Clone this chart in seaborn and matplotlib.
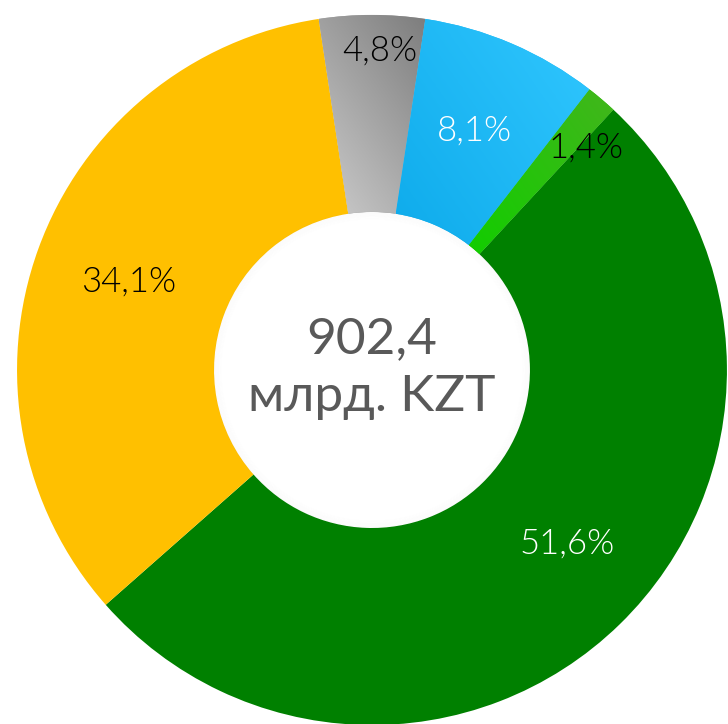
import matplotlib.pyplot as plt
import numpy as np
import seaborn as sns
from matplotlib.colors import LinearSegmentedColormap

# shares of the total, clockwise from the top
shares = [4.8, 8.1, 1.4, 51.6, 34.1]
labels = ["4,8%", "8,1%", "1,4%", "51,6%", "34,1%"]
total_value = "902,4"
total_unit = "млрд. KZT"

colors = ["#a6a6a6", "#1fb8f5", "#2ec40c", "#008000", "#ffc000"]
gradients = [("#cdcdcd", "#7d7d7d"), ("#0eabeb", "#31c7ff"), ("#12cd00", "#42b61c"), None, None]
label_colors = ["black", "white", "black", "white", "black"]
label_radius = [0.9, 0.735, 0.87, 0.735, 0.73]
label_shift = [-1.4, 0.0, -3.5, 4.0, 0.0]

INNER = 0.445

sns.set_theme(style="white")
plt.rcParams["font.family"] = ["Lato", "DejaVu Sans"]

fig = plt.figure(figsize=(7.28, 7.24), dpi=100)
ax = fig.add_axes([0, 0, 1, 1])

start = 90 + 360 * shares[0] / 100 / 2
wedges, _ = ax.pie(
    shares,
    colors=colors,
    startangle=start,
    counterclock=False,
    radius=1,
    wedgeprops=dict(width=1 - INNER, linewidth=0),
)

# soft linear gradients on the small slices
for w, grad in zip(wedges, gradients):
    if grad is None:
        continue
    t = np.radians(np.linspace(w.theta1, w.theta2, 50))
    xs = np.concatenate([np.cos(t), INNER * np.cos(t)])
    ys = np.concatenate([np.sin(t), INNER * np.sin(t)])
    x0, x1, y0, y1 = xs.min(), xs.max(), ys.min(), ys.max()
    gx, gy = np.meshgrid(np.linspace(x0, x1, 200), np.linspace(y0, y1, 200))
    a = np.radians(35)
    v = gx * np.cos(a) + gy * np.sin(a)
    v = (v - v.min()) / (v.max() - v.min())
    cmap = LinearSegmentedColormap.from_list("g", list(grad))
    im = ax.imshow(v, extent=(x0, x1, y0, y1), origin="lower", cmap=cmap,
                   aspect="auto", zorder=2, interpolation="bilinear")
    im.set_clip_path(w)

# faint shadow along the hole edge
for i in range(10):
    ax.add_patch(plt.Circle((0, 0), INNER - 0.0025 * i, fill=False,
                            edgecolor="black", alpha=0.012 * (10 - i) / 10,
                            linewidth=1.0, zorder=3))

for w, lab, col, r, sh in zip(wedges, labels, label_colors, label_radius, label_shift):
    ang = np.radians((w.theta1 + w.theta2) / 2 + sh)
    ax.text(r * np.cos(ang), r * np.sin(ang), lab, color=col, fontsize=25,
            fontweight=300, ha="center", va="center", zorder=5)

ax.text(0, 0.087, total_value, color="#595959", fontsize=37, ha="center", va="center", zorder=5)
ax.text(0, -0.076, total_unit, color="#595959", fontsize=37, ha="center", va="center", zorder=5)

ax.set_aspect("auto")
ax.set_xlim(-1.048, 1.003)
ax.set_ylim(-0.997, 1.042)
ax.axis("off")

fig.savefig("out.png", dpi=100)
